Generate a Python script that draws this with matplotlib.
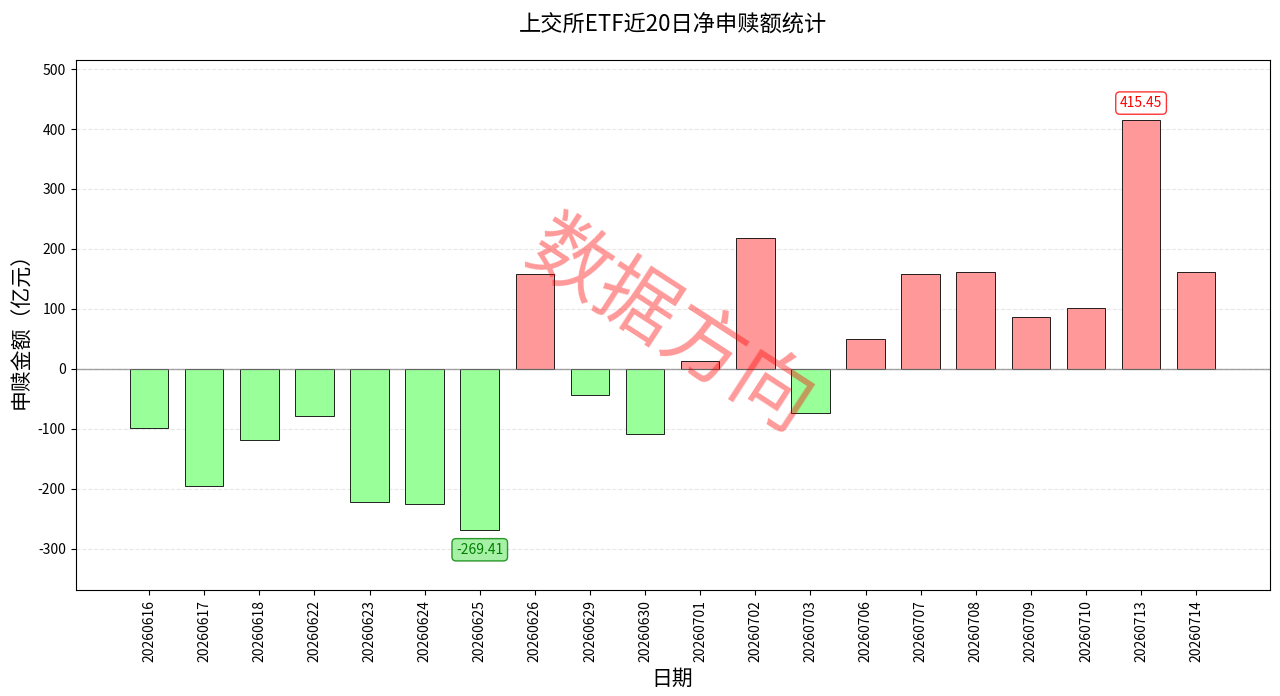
import matplotlib
matplotlib.use('Agg')
import matplotlib.pyplot as plt

plt.rcParams['font.family'] = ['Noto Sans CJK SC', 'DejaVu Sans']
plt.rcParams['axes.unicode_minus'] = False

DATES = ['20260616', '20260617', '20260618', '20260622', '20260623',
         '20260624', '20260625', '20260626', '20260629', '20260630',
         '20260701', '20260702', '20260703', '20260706', '20260707',
         '20260708', '20260709', '20260710', '20260713', '20260714']
VALUES = [-99, -196, -118, -78, -223, -226, -269.41, 158, -44, -108,
          13, 218, -73, 49, 158, 162, 87, 101, 415.45, 162]

TITLE = '上交所ETF近20日净申赎额统计'
WATERMARK = '数据方向'

RED = '#ff9999'
GREEN = '#99ff99'

fig, ax = plt.subplots(figsize=(12.8, 6.96), dpi=100)
fig.subplots_adjust(left=0.059, right=0.992, top=0.914, bottom=0.152)

x = list(range(len(DATES)))
colors = [RED if v >= 0 else GREEN for v in VALUES]
ax.bar(x, VALUES, width=0.7, color=colors, edgecolor='black', linewidth=0.6)

ax.axhline(0, color='gray', linewidth=1, alpha=0.7)
ax.grid(axis='y', linestyle='--', alpha=0.3)
ax.set_axisbelow(True)

ax.set_xticks(x)
ax.set_xticklabels(DATES, rotation=90, fontsize=10)
ax.tick_params(axis='y', labelsize=10)
ax.set_ylim(min(VALUES) - 100, max(VALUES) + 100)

ax.set_title(TITLE, fontsize=16, pad=20)
ax.set_xlabel('日期', fontsize=15)
ax.set_ylabel('申赎金额（亿元）', fontsize=15)

# mark the extremes
imax = VALUES.index(max(VALUES))
imin = VALUES.index(min(VALUES))
ax.annotate(f'{VALUES[imax]:.2f}', xy=(imax, VALUES[imax]), xytext=(0, 7),
            textcoords='offset points', ha='center', va='bottom', fontsize=10,
            color='red', bbox=dict(boxstyle='round,pad=0.3', fc='white', ec='red', alpha=0.8))
ax.annotate(f'{VALUES[imin]:.2f}', xy=(imin, VALUES[imin]), xytext=(0, -9),
            textcoords='offset points', ha='center', va='top', fontsize=10,
            color='green', bbox=dict(boxstyle='round,pad=0.3', fc='lightgreen', ec='green', alpha=0.8))

fig.text(0.523, 0.528, WATERMARK, fontsize=58, color='red', alpha=0.4,
         rotation=-33, ha='center', va='center')

fig.savefig('out.png', dpi=100)
